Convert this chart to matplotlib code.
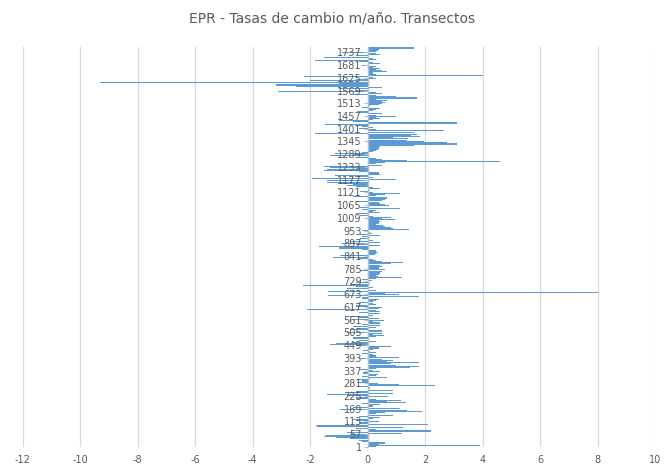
import matplotlib
matplotlib.use("Agg")
import matplotlib.pyplot as plt
import numpy as np

# EPR (m/año), un valor cada 5 transectos (1, 6, 11, ...)
epr = [
    0.3, 3.9, 0.4, 0.6, 0.6, -0.2, -0.3, -0.6, -1.1, -1.5,
    -1.45, -0.6, 1.2, -0.7, 2.2, 0.3, -0.4, 1.25, -1.77, -1.8,
    2.1, -0.3, 0.4, -0.4, -0.5, 0.2, 0.45, -0.3, 0.9, 0.3,
    0.6, 1.9, 1.37, -0.95, 1.14, -0.5, 0.2, 0.45, -0.2, 1.35,
    0.67, 1.15, 0.3, -0.4, 0.73, -0.7, -1.4, 0.9, -0.72, -0.4,
    0.9, 0.1, 0.1, -0.3, 2.36, 1.08, 0.35, -0.35, -0.2, -0.3,
    0.1, 0.67, -0.2, 0.3, 0.35, -0.15, 0.45, 0.2, -0.25, 0.3,
    1.47, 1.8, 1.0, 0.8, 1.8, 0.67, 0.9, 0.5, -0.3, 1.1,
    0.3, 0.2, -0.2, 0.3, 0.1, -0.15, 0.2, 0.4, 0.8, -0.4,
    -1.3, -1.1, -0.5, 0.3, -0.3, -0.5, -0.5, 0.3, 0.56, 0.2,
    0.5, -0.7, 0.5, -0.6, -0.3, 0.3, -0.5, 0.45, -0.2, 0.45,
    0.2, 0.56, -0.5, 0.4, -0.3, -0.66, 0.2, 0.45, -0.3, 0.45,
    0.3, -2.1, 0.4, 0.5, -0.4, 0.3, 0.2, -0.3, 0.2, 0.3,
    0.4, -0.2, 1.78, -1.36, 1.08, 0.6, 8.0, -1.36, 0.3, -0.7,
    0.2, -0.4, -2.23, -0.5, 0.1, -0.4, 0.15, -0.2, 0.3, 1.2,
    0.35, 0.3, 0.4, 0.45, 0.5, -0.25, 0.6, 0.4, 0.4, 0.5,
    0.45, 0.8, 1.25, 0.5, 0.3, 0.2, -0.3, -1.19, -0.95, 0.25,
    0.3, 0.35, 0.3, 0.3, -0.2, -1.0, -1.67, 0.45, -0.4, -0.9,
    0.45, -0.6, 0.2, -0.25, 0.1, -0.2, 0.45, -0.25, 0.15, 0.1,
    -0.2, 1.43, 0.9, 0.8, 0.6, 0.55, 0.3, 0.4, 0.45, 0.4,
    0.97, 0.5, 0.8, 0.2, -0.25, -0.4, 0.45, 0.2, 0.3, -0.2,
    1.14, -0.25, 0.75, 0.6, 0.45, 0.4, -0.35, 0.5, 0.6, 0.67,
    -0.5, 0.3, 0.6, 1.14, 0.2, -0.25, 0.1, 0.45, 0.2, -0.4,
    -0.7, -0.5, -1.0, -1.4, -1.4, 1.0, -1.94, 0.2, -0.4, -1.13,
    0.45, 0.4, -0.3, -1.53, -1.42, -0.4, -1.3, -1.53, 0.5, 0.3,
    0.6, 4.6, 1.37, 0.5, 0.3, -0.3, -1.3, -0.5, -1.13, -0.2,
    0.2, 0.3, 0.35, 0.4, 0.45, 1.6, 3.1, 3.1, 2.77, 1.95,
    1.37, 1.4, 0.9, 1.84, 1.5, 1.72, -1.83, 1.6, 2.65, 0.3,
    -0.3, 0.2, -0.2, -0.4, -1.48, 3.1, -0.5, -1.0, 0.2, 0.45,
    0.3, 1.0, 0.3, 0.5, -0.3, -0.35, 0.2, 0.3, 0.45, -0.2,
    0.1, 0.4, 0.5, 0.6, 0.5, 0.67, 0.3, 1.72, 1.0, 0.3,
    -0.5, 0.5, 0.3, -3.1, -0.4, -1.0, 0.5, -2.5, -3.2, -3.18,
    -1.0, -9.3, -2.0, -0.4, 0.3, 0.2, -2.2, 4.0, 0.3, 0.2,
    0.67, 0.5, 0.3, 0.45, 0.2, 0.3, -0.2, 0.45, 0.2, -0.3,
    -1.83, 0.3, 0.2, -1.53, -0.4, 0.45, 0.3, -0.9, 0.3, 0.35,
    0.4, 1.6,
]
transectos = np.arange(1, 5 * len(epr), 5)
etiquetas_y = np.arange(1, 1760, 56)
ticks_x = np.arange(-12, 11, 2)

txt = "#595959"

fig = plt.figure(figsize=(6.64, 4.66), dpi=100)
ax = fig.add_axes([22.5 / 664, 1 - 447 / 466, 632.5 / 664, 400 / 466])

# el eje vertical va en x=0 (mover el spine antes de poner etiquetas)
for s in ["top", "right", "bottom"]:
    ax.spines[s].set_visible(False)
ax.spines["left"].set_position(("data", 0))
ax.spines["left"].set_color("#bfbfbf")
ax.spines["left"].set_linewidth(1)

for x in ticks_x:
    ax.axvline(x, color="#d9d9d9", lw=0.9, zorder=0)

ax.barh(transectos, epr, height=4.6, color="#5b9bd5", linewidth=0, zorder=1)

ax.set_xlim(-12, 10)
ax.set_ylim(0.5, 1760.5)
ax.set_xticks(ticks_x)
ax.set_xticklabels([str(v) for v in ticks_x])
ax.tick_params(axis="x", length=0, pad=6, labelcolor=txt, labelsize=7)
ax.set_yticks(etiquetas_y)
ax.set_yticklabels([str(v) for v in etiquetas_y])
ax.tick_params(axis="y", length=3, width=0.8, color="#bfbfbf", pad=1,
               labelcolor=txt, labelsize=7)

fig.text(0.5, 1 - 18 / 466, "EPR - Tasas de cambio m/año. Transectos",
         ha="center", va="center", color=txt, fontsize=10)

fig.savefig("out.png", dpi=100)
